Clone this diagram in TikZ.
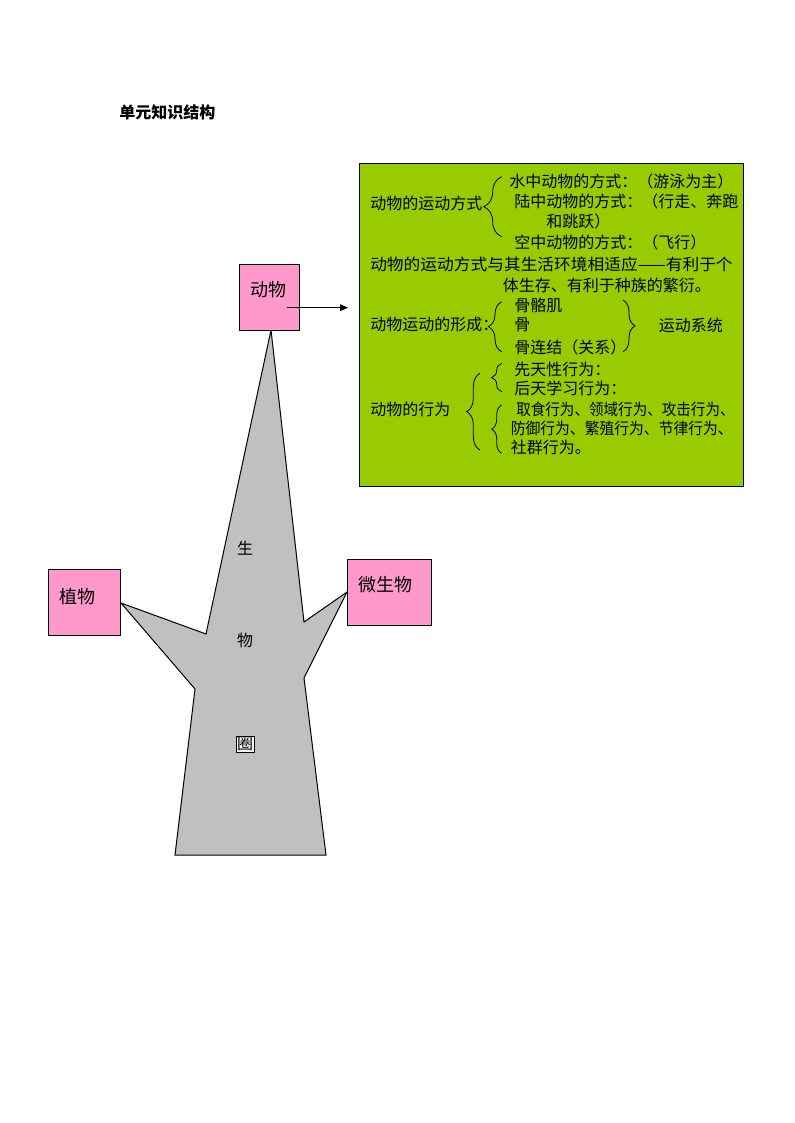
\documentclass[tikz,border=0pt]{standalone}
\usepackage{fontspec}
\usepackage{graphicx}
\setmainfont{Noto Sans CJK SC}
\usetikzlibrary{decorations.pathreplacing,arrows.meta}
\definecolor{pinkfill}{HTML}{FF99CC}
\definecolor{greenfill}{HTML}{99CC00}
\definecolor{grayfill}{HTML}{C0C0C0}
\tikzset{
  pinkbox/.style={draw=black, line width=0.75pt, fill=pinkfill, inner sep=0pt},
  boxlabel/.style={font=\fontsize{13.5pt}{15pt}\selectfont, inner sep=0pt},
  gtext/.style={anchor=west, font=\fontsize{12pt}{14pt}\selectfont, inner sep=0pt},
  shapetext/.style={font=\fontsize{12pt}{14pt}\selectfont, inner sep=0pt},
  bracel/.style={decorate, line width=0.6pt, decoration={brace, amplitude=#1}},
}
\begin{document}
\begin{tikzpicture}[x=0.75pt, y=-0.75pt]
\useasboundingbox (0,0) rectangle (794,1123);

% title
\node[anchor=west, inner sep=0pt, font=\fontsize{12pt}{14pt}\selectfont\bfseries] (title) at (119,112) {单元知识结构};

% grey shape (生物圈)
\draw[fill=grayfill, line width=0.75pt, line join=miter]
  (271,330) -- (304,622) -- (347,592) -- (304,678) -- (326,855)
  -- (175,855) -- (195,689) -- (121,603) -- (206,634) -- cycle;

\node[shapetext] (s1) at (245,548) {生};
\node[shapetext] (s2) at (245,640) {物};
\node[shapetext, draw=black, line width=0.4pt, fill=white!85!grayfill, inner sep=0.6pt] (s3) at (245,744) {圈};

% pink boxes
\node[pinkbox, minimum width=45pt, minimum height=49.3pt] (dwbox) at (269.3,297.2) {};
\node[boxlabel] (dw) at (268.5,290) {动物};
\node[pinkbox, minimum width=54pt, minimum height=49.3pt] (zwbox) at (84.3,602.2) {};
\node[boxlabel] (zw) at (77,596.5) {植物};
\node[pinkbox, minimum width=62.8pt, minimum height=49.5pt] (wswbox) at (389.2,592) {};
\node[boxlabel] (wsw) at (385,585) {微生物};

% green box
\node[draw=black, line width=0.75pt, fill=greenfill, minimum width=288pt, minimum height=242.3pt, inner sep=0pt] (green) at (551.3,324.65) {};

% arrow
\coordinate (astart) at (287.3,307.7);
\coordinate (aend) at (348,307.7);
\draw[line width=0.75pt, -{Triangle[length=6pt,width=5pt]}] (astart) -- (aend);

% green box text
\node[gtext] (t1) at (509,181.5) {水中动物的方式：（游泳为主）};
\node[gtext] (t2) at (370,203) {动物的运动方式};
\node[gtext] (t3) at (514,201) {陆中动物的方式：（行走、奔跑};
\node[gtext] (t4) at (546,221.5) {和跳跃）};
\node[gtext] (t5) at (514,242) {空中动物的方式：（飞行）};
\node[gtext] (t6) at (370,264) {\scalebox{1.045}[1]{动物的运动方式与其生活环境相适应——有利于个}};
\node[gtext] (t7) at (502.5,285) {体生存、有利于种族的繁衍。};
\node[gtext] (t8) at (514,305) {骨骼肌};
\node[gtext] (t9) at (370,324.5) {动物运动的形成：};
\node[gtext] (t10) at (514,325) {骨};
\node[gtext] (t11) at (514,347.5) {骨连结（关系）};
\node[gtext] (t12) at (658.5,325) {运动系统};
\node[gtext] (t13) at (514,369.5) {先天性行为：};
\node[gtext] (t14) at (514,388.5) {后天学习行为：};
\node[gtext] (t15) at (370,409) {动物的行为};
\node[gtext] (t16) at (516,409) {\scalebox{0.91}[1]{取食行为、领域行为、攻击行为、}};
\node[gtext] (t17) at (510.5,428.5) {\scalebox{0.925}[1]{防御行为、繁殖行为、节律行为、}};
\node[gtext] (t18) at (510.5,447.5) {社群行为。};

% braces
\coordinate (b1a) at (501.7,236.7); \coordinate (b1b) at (501.7,176.7);
\draw[bracel=13.5pt] (b1a) -- (b1b);
\coordinate (b2a) at (501.7,351.7); \coordinate (b2b) at (501.7,301.7);
\draw[bracel=10pt] (b2a) -- (b2b);
\coordinate (b3a) at (623,300); \coordinate (b3b) at (623,351.7);
\draw[bracel=9pt] (b3a) -- (b3b);
\coordinate (b4a) at (501.7,391.7); \coordinate (b4b) at (501.7,363.3);
\draw[bracel=7.5pt] (b4a) -- (b4b);
\coordinate (b5a) at (480,450); \coordinate (b5b) at (480,373.3);
\draw[bracel=10pt] (b5a) -- (b5b);
\coordinate (b6a) at (501.7,453.3); \coordinate (b6b) at (501.7,405);
\draw[bracel=7.5pt] (b6a) -- (b6b);
\end{tikzpicture}
\end{document}
